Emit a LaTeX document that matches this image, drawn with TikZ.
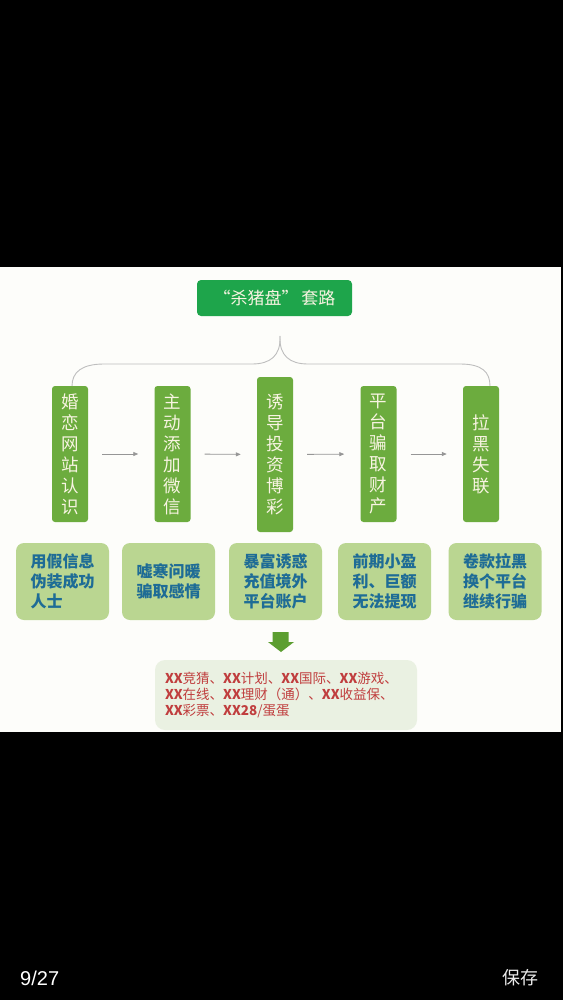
\documentclass[tikz,border=0pt]{standalone}
\usepackage{fontspec}
\setmainfont{Liberation Sans}
\newfontfamily\cjk{Noto Sans CJK SC}
\usetikzlibrary{arrows.meta}
\definecolor{pagewhite}{RGB}{253,253,250}
\definecolor{titlegreen}{RGB}{30,165,75}
\definecolor{vgreen}{RGB}{108,172,62}
\definecolor{cream}{RGB}{248,244,226}
\definecolor{lgreen}{RGB}{186,214,145}
\definecolor{tealblue}{RGB}{30,108,150}
\definecolor{dgreen}{RGB}{92,158,48}
\definecolor{palegreen}{RGB}{234,241,226}
\definecolor{redtext}{RGB}{192,62,62}
\definecolor{linegrey}{RGB}{190,190,190}
\definecolor{arrowgrey}{RGB}{150,150,150}
\newcommand{\xxb}{\textbf{XX}}
\begin{document}
\begin{tikzpicture}[x=1pt,y=-1pt,
  titlebox/.style={fill=titlegreen,rounded corners=4pt,minimum width=155pt,minimum height=36pt,inner sep=0pt,text=cream,font=\cjk\fontsize{17}{20}\selectfont},
  vbox/.style={fill=vgreen,rounded corners=3pt,minimum width=36pt,minimum height=136pt,inner sep=0pt,text=cream,align=center,font=\cjk\fontsize{17.5}{21}\selectfont},
  lbox/.style={fill=lgreen,rounded corners=8pt,minimum width=93pt,minimum height=77pt,inner sep=0pt,text=tealblue,align=left,font=\cjk\bfseries\fontsize{16}{20}\selectfont},
  flow/.style={draw=arrowgrey,line width=0.8pt,-{Triangle[length=5pt,width=4pt]},shorten <=14pt,shorten >=16pt},
  brace/.style={draw=linegrey,line width=0.9pt}
]
\useasboundingbox (0,0) rectangle (563,1000);
\fill[black] (0,0) rectangle (563,1000);
\fill[pagewhite] (0,267) rectangle (561,732);

% title
\node[titlebox] (title) at (274.5,298) {“杀猪盘”\,套路};

% upper vertical boxes
\node[vbox] (b1) at (70,454) {婚\\恋\\网\\站\\认\\识};
\node[vbox] (b2) at (172.5,454) {主\\动\\添\\加\\微\\信};
\node[vbox,minimum height=155pt] (b3) at (275,454.5) {诱\\导\\投\\资\\博\\彩};
\node[vbox] (b4) at (378.5,454) {平\\台\\骗\\取\\财\\产};
\node[vbox] (b5) at (481,454) {拉\\黑\\失\\联};

% brace
\coordinate (cusp) at (280,336);
\coordinate (bl) at (72,386);
\coordinate (br) at (490,386);
\draw[brace] (cusp) .. controls (281,356) and (270,364) .. (252,364) -- (104,364) .. controls (82,364) and (72,372) .. (bl);
\draw[brace] (cusp) .. controls (279,356) and (290,364) .. (308,364) -- (460,364) .. controls (482,364) and (490,372) .. (br);

% flow arrows
\draw[flow] (b1.east) -- (b2.west);
\draw[flow] (b2.east) -- (b3.west);
\draw[flow] (b3.east) -- (b4.west);
\draw[flow] (b4.east) -- (b5.west);

% lower boxes
\node[lbox] (l1) at (62.5,581.5) {用假信息\\伪装成功\\人士};
\node[lbox] (l2) at (168.5,581.5) {嘘寒问暖\\骗取感情};
\node[lbox] (l3) at (275.5,581.5) {暴富诱惑\\充值境外\\平台账户};
\node[lbox] (l4) at (384.5,581.5) {前期小盈\\利、巨额\\无法提现};
\node[lbox] (l5) at (495,581.5) {卷款拉黑\\换个平台\\继续行骗};

% big down arrow
\fill[dgreen] (272.5,632) -- (288.5,632) -- (288.5,642) -- (294,642) -- (281,652) -- (268,642) -- (272.5,642) -- cycle;

% result box
\node[fill=palegreen,rounded corners=10pt,minimum width=262pt,minimum height=70pt,inner xsep=10pt,inner ysep=0pt,text width=242pt,align=left,text=redtext,font=\cjk\fontsize{13.5}{16}\selectfont] (res) at (286,695)
  {\xxb 竞猜、\xxb 计划、\xxb 国际、\xxb 游戏、\\\xxb 在线、\xxb 理财（通）、\xxb 收益保、\\\xxb 彩票、\textbf{XX28}/蛋蛋};

% footer
\node[text=white,font=\fontsize{20}{22}\selectfont,inner sep=0pt,anchor=west] (page) at (20,978) {9/27};
\node[text=white!92!black,font=\cjk\fontsize{18}{20}\selectfont,inner sep=0pt,anchor=east] (save) at (539,978) {保存};
\end{tikzpicture}
\end{document}
